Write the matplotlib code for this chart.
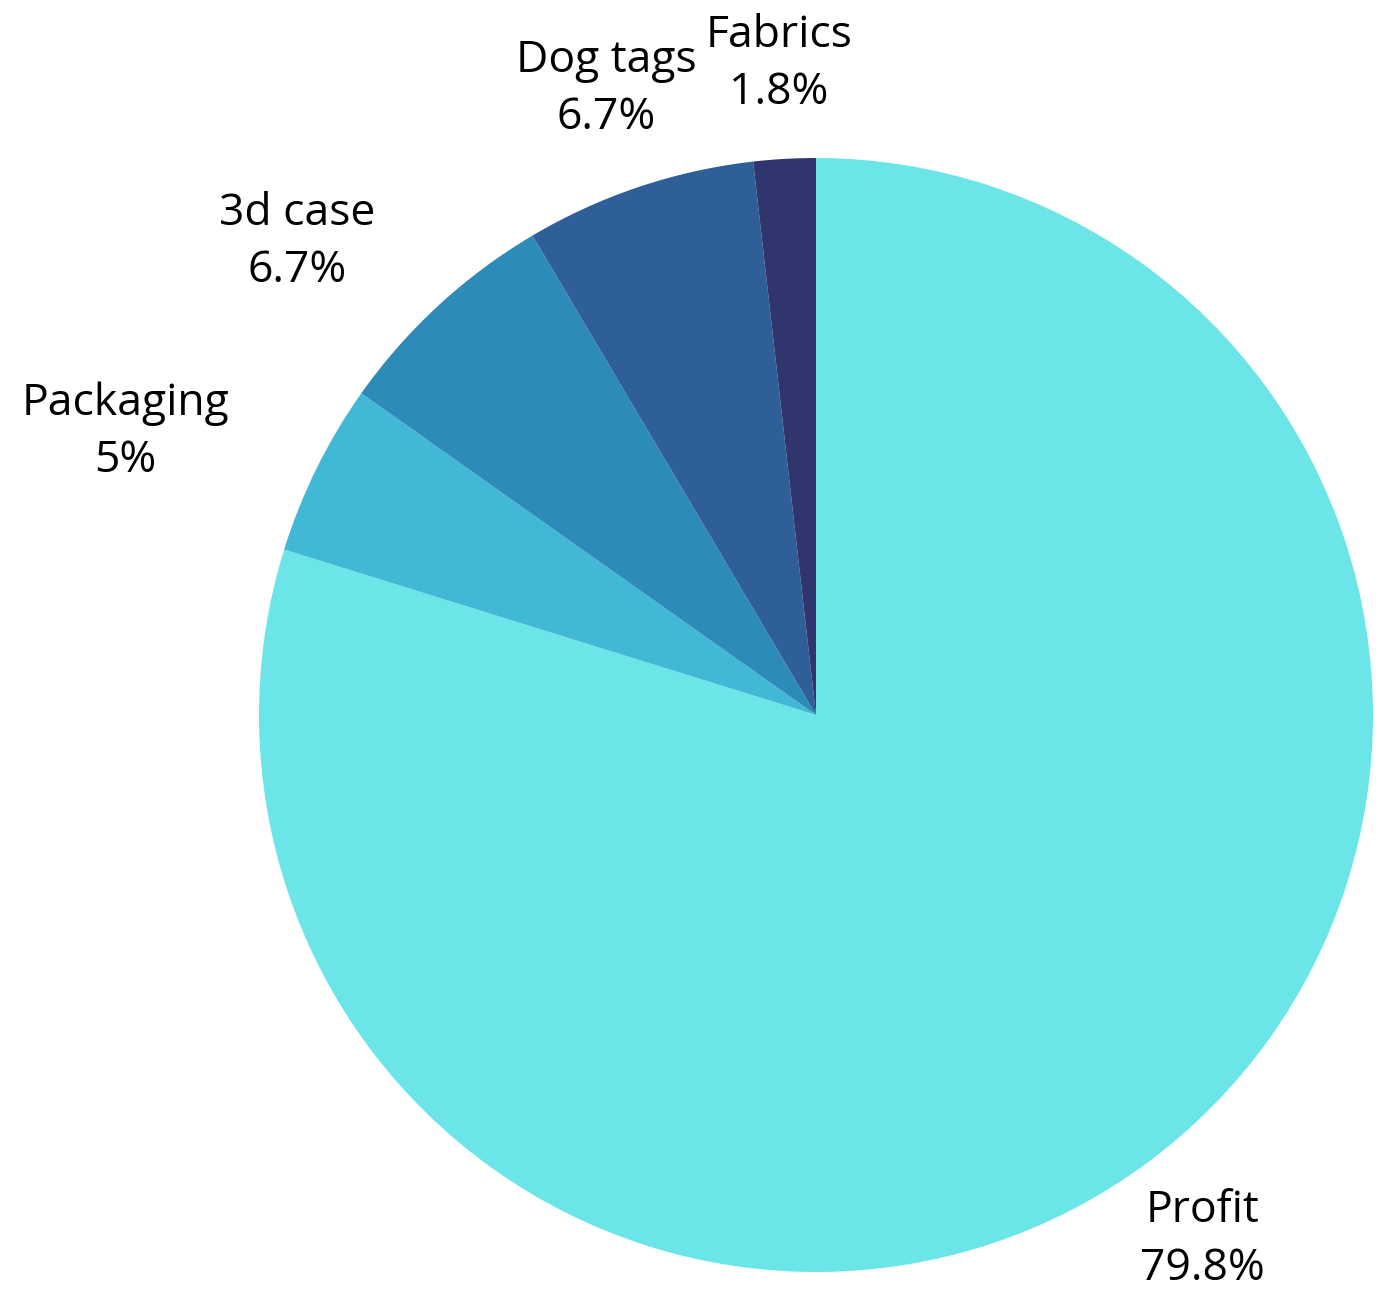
import numpy as np
import matplotlib
matplotlib.use("Agg")
import matplotlib.pyplot as plt

plt.rcParams['font.family'] = ['Open Sans', 'DejaVu Sans']

# data
categories = ["Profit", "Packaging", "3d case", "Dog tags", "Fabrics"]
shares = [79.8, 5, 6.7, 6.7, 1.8]
share_labels = ["79.8%", "5%", "6.7%", "6.7%", "1.8%"]
colors = ["#6ce5e8", "#41b8d5", "#2d8bba", "#2f5f98", "#31356e"]

# label placement (distance in radii, angle shift in degrees from wedge middle)
label_dist = [1.17, 1.34, 1.26, 1.185, 1.17]
label_shift = [0, 4, 5, 0, 0]

W, H = 1380, 1292
fig = plt.figure(figsize=(W / 100, H / 100), dpi=100)

cx, cy, r = 816, 715, 557
ax = fig.add_axes([(cx - r) / W, (H - cy - r) / H, 2 * r / W, 2 * r / H])

wedges, _ = ax.pie(shares, colors=colors, startangle=90, counterclock=False,
                   wedgeprops=dict(linewidth=0))
ax.set_xlim(-1, 1)
ax.set_ylim(-1, 1)
ax.axis('off')

for w, name, pct, d, s in zip(wedges, categories, share_labels, label_dist, label_shift):
    mid = np.deg2rad((w.theta1 + w.theta2) / 2 + s)
    ax.text(d * np.cos(mid), d * np.sin(mid), name + "\n" + pct,
            ha='center', va='center', fontsize=32, color='#000000',
            linespacing=1.38)

fig.savefig("out.png", dpi=100, facecolor='white')
